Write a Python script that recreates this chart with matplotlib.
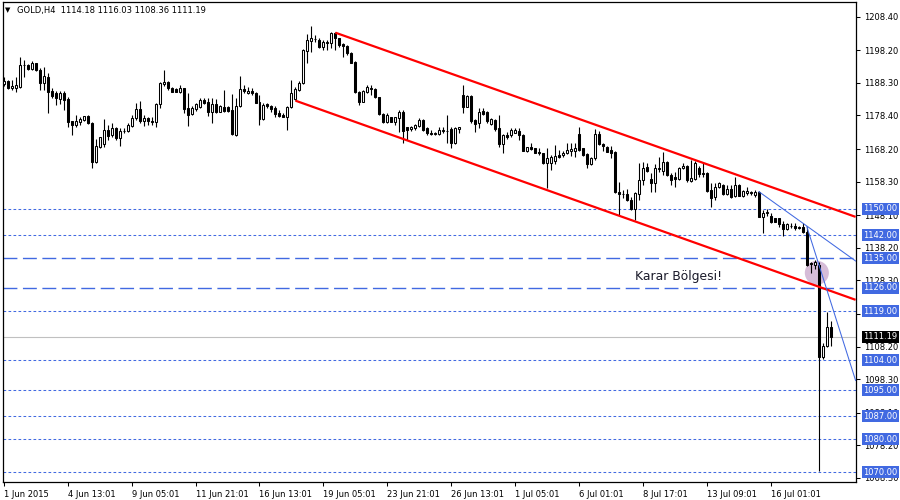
import matplotlib
matplotlib.use('Agg')
import matplotlib.pyplot as plt
import numpy as np

# ---------------- data ----------------
opens = [1187.9, 1188.9, 1186.6, 1186.8, 1187.1, 1193.6, 1193.7, 1192.5, 1194.2, 1192.2,
         1188.2, 1190.0, 1185.8, 1185.1, 1183.4, 1185.3, 1183.4, 1176.7, 1175.5, 1176.5,
         1177.0, 1178.2, 1176.0, 1164.4, 1168.9, 1169.7, 1174.0, 1172.5, 1174.5, 1171.6,
         1173.6, 1173.7, 1175.2, 1177.5, 1180.3, 1176.8, 1177.5, 1176.6, 1176.3, 1181.8,
         1187.9, 1188.7, 1186.8, 1186.3, 1185.6, 1186.6, 1180.6, 1178.7, 1180.4, 1181.1,
         1183.1, 1182.6, 1179.6, 1181.8, 1179.6, 1180.9, 1180.9, 1180.1, 1172.5, 1181.3,
         1186.4, 1185.1, 1185.9, 1185.3, 1182.6, 1177.3, 1181.8, 1181.3, 1180.8, 1179.0,
         1178.5, 1178.0, 1180.9, 1183.3, 1186.1, 1188.2, 1198.1, 1201.1, 1201.7, 1201.3,
         1199.3, 1200.3, 1200.3, 1203.4, 1201.8, 1200.0, 1199.5, 1197.5, 1194.7, 1185.6,
         1182.6, 1185.4, 1186.8, 1186.4, 1183.9, 1178.8, 1176.5, 1177.8, 1176.5, 1177.5,
         1179.6, 1174.8, 1174.2, 1174.5, 1175.2, 1177.0, 1174.5, 1173.1, 1172.8, 1172.8,
         1173.7, 1173.8, 1174.2, 1169.9, 1174.2, 1184.6, 1181.1, 1184.3, 1177.0, 1176.0,
         1179.8, 1179.6, 1175.8, 1177.0, 1174.5, 1169.7, 1172.5, 1172.4, 1173.2, 1173.7,
         1172.5, 1167.7, 1168.7, 1168.4, 1167.4, 1166.9, 1164.0, 1164.0, 1164.7, 1166.4,
         1166.4, 1167.1, 1167.7, 1167.7, 1172.8, 1168.4, 1166.7, 1163.6, 1165.4, 1172.8,
         1169.7, 1168.9, 1167.9, 1167.4, 1155.2, 1154.6, 1154.5, 1152.7, 1149.9, 1154.5,
         1158.8, 1162.7, 1159.0, 1157.8, 1162.0, 1161.6, 1164.4, 1160.3, 1159.8, 1159.0,
         1162.3, 1163.1, 1158.6, 1159.0, 1162.3, 1161.0, 1160.8, 1155.8, 1153.7, 1156.8,
         1157.3, 1154.5, 1156.0, 1153.9, 1157.3, 1154.0, 1154.8, 1155.3, 1154.2, 1155.3,
         1147.7, 1148.9, 1147.9, 1147.2, 1147.2, 1145.4, 1143.8, 1144.9, 1144.8, 1144.5,
         1144.6, 1143.1, 1133.7, 1133.0, 1133.0, 1105.1, 1108.4, 1114.18]

highs = [1190.2, 1189.2, 1189.2, 1190.2, 1196.3, 1195.2, 1193.9, 1194.9, 1194.4, 1192.7,
         1193.2, 1191.2, 1186.6, 1185.9, 1185.9, 1185.9, 1184.1, 1176.8, 1178.5, 1178.0,
         1178.3, 1178.4, 1176.5, 1171.4, 1172.0, 1177.3, 1175.5, 1176.0, 1175.0, 1174.5,
         1174.5, 1176.0, 1178.5, 1182.1, 1182.8, 1178.5, 1178.0, 1178.0, 1182.1, 1188.7,
         1192.2, 1188.9, 1187.0, 1186.6, 1187.7, 1186.8, 1185.1, 1181.3, 1182.3, 1183.6,
         1183.6, 1183.6, 1183.6, 1183.3, 1181.6, 1186.1, 1181.3, 1184.9, 1183.6, 1190.4,
         1187.7, 1187.1, 1186.6, 1185.6, 1184.6, 1182.1, 1182.3, 1181.6, 1181.3, 1180.1,
         1179.2, 1181.3, 1189.2, 1187.1, 1188.9, 1198.5, 1203.3, 1205.6, 1202.8, 1201.8,
         1201.3, 1201.3, 1203.9, 1203.9, 1202.0, 1200.5, 1199.8, 1197.8, 1194.9, 1185.8,
         1186.1, 1187.7, 1187.7, 1186.6, 1184.1, 1179.0, 1179.0, 1178.0, 1178.0, 1180.1,
         1180.1, 1175.0, 1175.2, 1175.7, 1177.5, 1177.2, 1175.0, 1174.0, 1173.4, 1174.8,
         1174.8, 1178.5, 1175.0, 1174.8, 1175.0, 1187.7, 1184.6, 1184.6, 1177.2, 1180.6,
         1180.6, 1179.8, 1177.5, 1177.2, 1178.5, 1172.8, 1173.5, 1174.5, 1174.5, 1174.5,
         1172.7, 1168.9, 1170.1, 1168.6, 1168.4, 1167.1, 1168.4, 1166.4, 1169.4, 1167.9,
         1167.6, 1169.9, 1169.9, 1169.9, 1174.8, 1168.6, 1166.9, 1165.7, 1174.2, 1173.8,
         1170.1, 1169.1, 1169.1, 1167.6, 1158.3, 1155.7, 1156.2, 1153.7, 1155.3, 1163.9,
         1164.4, 1163.9, 1160.8, 1163.7, 1165.9, 1167.4, 1164.7, 1161.0, 1161.3, 1162.7,
         1163.9, 1163.4, 1164.9, 1164.7, 1163.1, 1163.9, 1161.3, 1157.8, 1157.8, 1158.3,
         1157.6, 1157.3, 1157.3, 1159.8, 1157.5, 1155.8, 1156.6, 1155.6, 1155.8, 1155.6,
         1149.7, 1149.9, 1148.9, 1147.4, 1147.4, 1146.4, 1145.8, 1145.8, 1145.8, 1144.8,
         1145.6, 1144.6, 1134.0, 1134.5, 1134.0, 1109.2, 1118.8, 1116.03]

lows = [1187.4, 1186.3, 1186.1, 1185.6, 1186.8, 1190.2, 1192.2, 1192.2, 1192.0, 1186.1,
        1186.1, 1179.2, 1183.6, 1181.6, 1181.9, 1180.1, 1174.8, 1172.5, 1175.0, 1175.5,
        1176.8, 1175.8, 1162.3, 1164.0, 1168.4, 1168.9, 1170.9, 1172.0, 1170.9, 1169.1,
        1173.0, 1173.5, 1174.8, 1177.0, 1176.0, 1175.2, 1175.5, 1175.5, 1174.8, 1180.6,
        1187.3, 1186.1, 1185.4, 1185.4, 1185.3, 1179.0, 1175.2, 1178.5, 1179.9, 1180.8,
        1181.9, 1178.2, 1176.2, 1179.3, 1179.4, 1179.6, 1179.6, 1172.5, 1172.3, 1180.9,
        1185.3, 1184.9, 1184.6, 1182.1, 1175.5, 1177.0, 1180.8, 1179.6, 1178.0, 1178.0,
        1177.8, 1174.0, 1180.6, 1183.1, 1185.9, 1188.0, 1194.4, 1197.8, 1200.8, 1198.8,
        1198.3, 1198.3, 1198.8, 1198.3, 1199.3, 1196.3, 1196.8, 1194.2, 1185.3, 1181.6,
        1182.4, 1185.1, 1184.6, 1183.6, 1178.6, 1176.0, 1176.0, 1176.3, 1175.5, 1173.5,
        1169.9, 1171.0, 1173.8, 1174.0, 1175.0, 1173.8, 1172.5, 1172.5, 1172.6, 1172.5,
        1173.2, 1169.9, 1168.4, 1169.7, 1173.2, 1179.2, 1180.9, 1176.0, 1173.5, 1174.5,
        1178.5, 1176.2, 1175.5, 1173.8, 1168.7, 1166.9, 1171.4, 1172.0, 1173.0, 1171.1,
        1167.5, 1167.4, 1167.9, 1166.9, 1166.4, 1163.8, 1156.5, 1161.8, 1163.8, 1165.4,
        1165.9, 1166.7, 1166.1, 1165.7, 1167.7, 1166.2, 1162.3, 1163.4, 1164.9, 1169.4,
        1167.7, 1167.2, 1165.4, 1155.0, 1148.1, 1153.2, 1152.5, 1149.7, 1146.6, 1152.7,
        1157.3, 1161.3, 1155.3, 1155.3, 1161.3, 1160.3, 1160.1, 1157.3, 1156.8, 1158.8,
        1162.0, 1158.3, 1158.3, 1158.8, 1159.6, 1159.8, 1155.3, 1150.7, 1152.7, 1156.3,
        1154.2, 1154.2, 1153.2, 1153.7, 1153.8, 1153.7, 1154.2, 1154.3, 1153.7, 1147.5,
        1142.8, 1147.9, 1145.8, 1145.9, 1144.6, 1141.8, 1143.6, 1144.1, 1143.6, 1143.8,
        1142.8, 1132.7, 1130.6, 1131.7, 1070.5, 1104.3, 1108.2, 1108.36]

closes = [1188.9, 1186.6, 1187.3, 1187.7, 1193.7, 1193.8, 1192.4, 1194.4, 1192.2, 1188.2,
          1190.4, 1185.6, 1184.4, 1183.6, 1185.3, 1183.1, 1176.5, 1175.5, 1176.7, 1177.2,
          1178.1, 1176.0, 1164.4, 1169.1, 1171.8, 1174.0, 1172.3, 1174.5, 1171.5, 1173.7,
          1173.8, 1175.5, 1177.7, 1180.3, 1176.8, 1177.7, 1176.7, 1176.4, 1181.8, 1188.2,
          1188.7, 1186.6, 1185.6, 1185.6, 1186.6, 1180.3, 1178.5, 1180.6, 1181.9, 1183.1,
          1182.1, 1179.6, 1181.9, 1179.6, 1181.3, 1179.8, 1179.9, 1172.7, 1181.3, 1186.4,
          1185.8, 1185.9, 1185.1, 1182.3, 1177.3, 1181.6, 1181.3, 1180.3, 1178.8, 1178.2,
          1178.0, 1180.9, 1185.3, 1186.3, 1188.4, 1198.3, 1201.3, 1201.8, 1201.5, 1199.3,
          1200.8, 1200.7, 1203.4, 1201.8, 1199.8, 1199.5, 1197.3, 1194.4, 1185.4, 1182.6,
          1185.8, 1187.1, 1186.3, 1183.9, 1178.8, 1176.5, 1178.5, 1176.5, 1177.8, 1179.6,
          1173.8, 1174.0, 1175.0, 1175.5, 1177.0, 1174.0, 1173.0, 1172.9, 1173.2, 1174.0,
          1174.0, 1173.6, 1169.9, 1174.5, 1174.8, 1181.1, 1184.3, 1176.8, 1175.8, 1179.6,
          1178.8, 1176.8, 1177.2, 1174.2, 1169.7, 1172.5, 1172.0, 1174.0, 1174.0, 1172.5,
          1167.7, 1168.7, 1168.1, 1167.1, 1166.9, 1164.0, 1165.4, 1165.7, 1166.1, 1165.9,
          1167.1, 1167.9, 1168.1, 1168.4, 1167.9, 1166.4, 1163.6, 1165.4, 1172.8, 1169.7,
          1169.1, 1167.4, 1167.1, 1155.2, 1154.5, 1154.4, 1152.7, 1149.9, 1154.8, 1158.8,
          1162.3, 1161.6, 1158.0, 1162.3, 1162.3, 1164.4, 1160.3, 1158.8, 1159.0, 1162.3,
          1163.1, 1158.8, 1159.3, 1163.9, 1160.6, 1160.6, 1155.6, 1153.2, 1156.6, 1157.8,
          1154.5, 1156.0, 1153.7, 1157.3, 1154.0, 1155.6, 1155.6, 1154.8, 1155.3, 1147.7,
          1148.9, 1149.2, 1146.1, 1146.1, 1145.4, 1143.8, 1145.4, 1144.7, 1144.1, 1144.3,
          1143.1, 1133.0, 1133.3, 1134.0, 1105.1, 1108.4, 1114.0, 1111.19]

date_labels = ['1 Jun 2015', '4 Jun 13:01', '9 Jun 05:01', '11 Jun 21:01', '16 Jun 13:01',
               '19 Jun 05:01', '23 Jun 21:01', '26 Jun 13:01', '1 Jul 05:01', '6 Jul 01:01',
               '8 Jul 17:01', '13 Jul 09:01', '16 Jul 01:01']
date_label_bars = [0, 16, 32, 48, 64, 80, 96, 112, 128, 144, 160, 176, 192]

price_ticks = [1208.40, 1198.20, 1188.30, 1178.40, 1168.20, 1158.30, 1148.10, 1138.20,
               1128.30, 1118.10, 1108.20, 1098.30, 1088.10, 1078.20, 1068.30]

dotted_levels = [1150.00, 1142.00, 1119.00, 1104.00, 1095.00, 1087.00, 1080.00, 1070.00]
dashed_levels = [1135.00, 1126.00]
last_price = 1111.19

channel_upper_bars = [83, 213.2]
channel_upper_prices = [1203.55, 1147.6]
channel_lower_bars = [73, 213.2]
channel_lower_prices = [1182.9, 1122.4]
trend_a_bars = [189, 213.2]
trend_a_prices = [1155.25, 1134.2]
trend_b_bars = [201, 213.2]
trend_b_prices = [1144.6, 1097.9]

zone_bar, zone_price = 203.5, 1130.6
zone_text = 'Karar Bölgesi!'
zone_text_bar, zone_text_price = 157.9, 1129.6

title_text = 'GOLD,H4  1114.18 1116.03 1108.36 1111.19'

# ---------------- drawing ----------------
BLUE = '#4169E1'
plt.rcParams['font.family'] = ['DejaVu Sans']

fig = plt.figure(figsize=(9, 5), dpi=100)
fig.patch.set_facecolor('white')
ax = fig.add_axes([3 / 900, 18 / 500, 853 / 900, 480 / 500])
ax.set_facecolor('white')

o = np.array(opens); h = np.array(highs); l = np.array(lows); c = np.array(closes)
x = np.arange(len(o))

ax.vlines(x, l, h, color='black', linewidth=0.8, zorder=3)
up = c >= o
ax.bar(x[up], c[up] - o[up], bottom=o[up], width=0.5, facecolor='white',
       edgecolor='black', linewidth=0.75, zorder=4)
ax.bar(x[~up], c[~up] - o[~up], bottom=o[~up], width=0.5, facecolor='black',
       edgecolor='black', linewidth=0.75, zorder=4)

# horizontal levels
for lv in dotted_levels:
    ax.axhline(lv, color=BLUE, linewidth=0.75, linestyle=(0, (2.6, 2.2)), zorder=2)
for lv in dashed_levels:
    ax.axhline(lv, color=BLUE, linewidth=1.0, linestyle=(0, (10, 4)), zorder=2)
ax.axhline(last_price, color='#C0C0C0', linewidth=0.8, zorder=1)

# trend lines
ax.plot(channel_upper_bars, channel_upper_prices, color='red', linewidth=1.6, zorder=5, solid_capstyle='butt')
ax.plot(channel_lower_bars, channel_lower_prices, color='red', linewidth=1.6, zorder=5, solid_capstyle='butt')
ax.plot(trend_a_bars, trend_a_prices, color=BLUE, linewidth=0.75, zorder=5)
ax.plot(trend_b_bars, trend_b_prices, color=BLUE, linewidth=0.75, zorder=5)

# decision zone
ax.scatter([zone_bar], [zone_price], s=300, color='#D6BCD8', edgecolors='none', zorder=2)
ax.text(zone_text_bar, zone_text_price, zone_text, fontsize=8.9, color='#1a1a2a',
        ha='left', va='center', zorder=6)

# axes setup
ax.set_xlim(-0.2, 213.3)
ax.set_ylim(1067.06, 1212.87)
ax.yaxis.tick_right()
ax.set_yticks(price_ticks)
ax.set_yticklabels(['%.2f' % v for v in price_ticks])
ax.set_xticks(date_label_bars)
ax.set_xticklabels(date_labels, ha='left')
ax.tick_params(axis='y', which='both', direction='out', length=3, width=0.75,
               labelsize=6, pad=3, colors='black')
ax.tick_params(axis='x', which='both', direction='out', length=3, width=0.75,
               labelsize=6, pad=2.5, colors='black')
for sp in ax.spines.values():
    sp.set_linewidth(0.9)
    sp.set_color('black')

# level labels on the price scale
def level_label(lv, txt, fc):
    ax.annotate(txt, xy=(1.0, lv), xycoords=('axes fraction', 'data'),
                xytext=(5.2, 0), textcoords='offset points', ha='left', va='center',
                fontsize=6, color='white', zorder=10, annotation_clip=False,
                bbox=dict(boxstyle='square,pad=0.18', fc=fc, ec='none'))

for lv in dotted_levels + dashed_levels:
    level_label(lv, '%.2f' % lv, BLUE)
level_label(last_price, '%.2f' % last_price, 'black')

# title
fig.text(5 / 900, 1 - 10 / 500, '▼', fontsize=5, va='center', ha='left', color='black')
fig.text(17 / 900, 1 - 10 / 500, title_text, fontsize=6, va='center', ha='left', color='black')

fig.savefig('out.png', dpi=100, facecolor='white')
